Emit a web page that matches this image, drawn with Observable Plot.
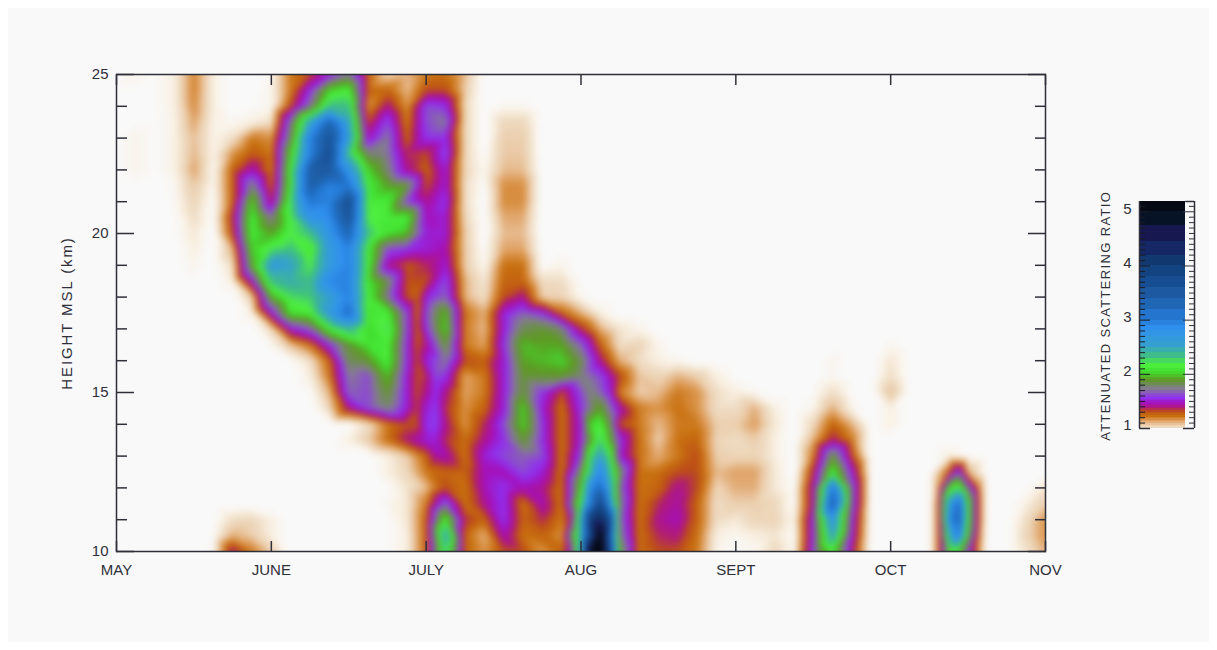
<!DOCTYPE html>
<html>
<head>
<meta charset="utf-8">
<script src="https://cdn.jsdelivr.net/npm/d3@7"></script>
<script src="https://cdn.jsdelivr.net/npm/@observablehq/plot@0.6"></script>
<style>
html,body{margin:0;padding:0;background:#fff;}
#page{position:absolute;left:8px;top:8px;width:1201px;height:634px;background:#f9f9f9;}
#main{position:absolute;left:0;top:0;}
#bar{position:absolute;left:1077px;top:172px;}
svg{background:transparent!important;}
text{font-family:"Liberation Sans",Arial,sans-serif;}
</style>
</head>
<body>
<div id="page"><div id="main"></div><div id="bar"></div></div>
<script>
const months = ["MAY","JUNE","JULY","AUG","SEPT","OCT","NOV"];
const monthTicks = [0,1,2,3,4,5,6];
const heightsKm = [25,24.5,24,23.5,23,22.5,22,21.5,21,20.5,20,19.5,19,18.5,18,17.5,17,16.5,16,15.5,15,14.5,14,13.5,13,12.5,12,11.5,11,10.5,10];
const majorKm = [10,15,20,25];
const minorKm = [11,12,13,14,16,17,18,19,21,22,23,24];
// columns run at eight per month, May to November
const km25 = [.90,.93,.90,.95,1.18,.95,.88,.88, .92,1.2,1.3,1.5,1.7,1.25,1.03,1.08, 1.2,1.22,1.08,.88,.88,.88,.88,.88, .88,.88,.88,.88,.88,.88,.88,.88, .88,.88,.88,.88,.88,.88,.88,.88, .88,.88,.88,.88,.88,.88,.88,.88, .88];
const km24h = [.9,.9,.9,.95,1.18,.95,.88,.88, .93,1.2,1.55,2.0,2.1,1.25,1.25,1.08, 1.3,1.3,1.05,.88,.88,.88,.88,.88, .88,.88,.88,.88,.88,.88,.88,.88, .88,.88,.88,.88,.88,.88,.88,.88, .88,.88,.88,.88,.88,.88,.88,.88, .88];
const km24 = [.9,.9,.9,.95,1.16,.95,.88,.9, .92,1.3,1.7,2.3,2.3,1.15,1.4,1.15, 1.6,1.55,1.02,.88,.92,.92,.88,.88, .88,.88,.88,.88,.88,.88,.88,.88, .88,.88,.88,.88,.88,.88,.88,.88, .88,.88,.88,.88,.88,.88,.88,.88, .88];
const km23h = [.9,.9,.9,.94,1.12,.94,.92,.95, 1.0,1.7,2.5,3.2,2.5,1.3,1.6,1.2, 1.6,1.7,1.02,.88,1.02,1.02,.88,.88, .88,.88,.88,.88,.88,.88,.88,.88, .88,.88,.88,.88,.88,.88,.88,.88, .88,.88,.88,.88,.88,.88,.88,.88, .88];
const km23 = [.9,.93,.9,.94,1.08,.94,1.0,1.2, 1.15,1.8,2.9,3.5,2.6,1.45,1.7,1.25, 1.55,1.55,1.02,.88,1.05,1.05,.88,.88, .88,.88,.88,.88,.88,.88,.88,.88, .88,.88,.88,.88,.88,.88,.88,.88, .88,.88,.88,.88,.88,.88,.88,.88, .88];
const km22h = [.9,.93,.9,.94,1.09,.94,1.15,1.28, 1.2,2.0,2.9,3.6,2.3,1.75,1.7,1.35, 1.3,1.6,1.02,.9,1.06,1.06,.88,.88, .88,.88,.88,.88,.88,.88,.88,.88, .88,.88,.88,.88,.88,.88,.88,.88, .88,.88,.88,.88,.88,.88,.88,.88, .88];
const km22 = [.9,.93,.9,.94,1.12,.92,1.25,1.45, 1.2,2.1,3.3,3.4,2.7,2.0,1.75,1.4, 1.25,1.5,1.02,.92,1.08,1.08,.88,.88, .88,.88,.88,.88,.88,.88,.88,.88, .88,.88,.88,.88,.88,.88,.88,.88, .88,.88,.88,.88,.88,.88,.88,.88, .88];
const km21h = [.88,.9,.88,.92,1.06,.92,1.25,1.75, 1.25,2.1,3.3,2.9,3.0,2.1,1.9,1.85, 1.3,1.5,1.0,.9,1.16,1.16,.88,.88, .88,.88,.88,.88,.88,.88,.88,.88, .88,.88,.88,.88,.88,.88,.88,.88, .88,.88,.88,.88,.88,.88,.88,.88, .88];
const km21 = [.88,.88,.88,.91,1.03,.9,1.25,2.0, 1.35,2.2,3.0,2.9,3.6,2.1,2.1,1.6, 1.4,1.55,1.0,.88,1.16,1.16,.88,.88, .88,.88,.88,.88,.88,.88,.88,.88, .88,.88,.88,.88,.88,.88,.88,.88, .88,.88,.88,.88,.88,.88,.88,.88, .88];
const km20h = [.88,.88,.88,.9,1.0,.9,1.35,2.1, 1.7,2.15,2.7,2.85,3.5,2.15,2.1,2.1, 1.45,1.5,1.02,.88,1.11,1.11,.88,.88, .88,.88,.88,.88,.88,.88,.88,.88, .88,.88,.88,.88,.88,.88,.88,.88, .88,.88,.88,.88,.88,.88,.88,.88, .88];
const km20 = [.88,.88,.88,.9,.97,.88,1.3,2.1, 1.9,2.15,2.3,2.7,3.2,2.3,2.05,1.95, 1.5,1.5,1.05,.88,1.08,1.08,.88,.88, .88,.88,.88,.88,.88,.88,.88,.88, .88,.88,.88,.88,.88,.88,.88,.88, .88,.88,.88,.88,.88,.88,.88,.88, .88];
const km19h = [.88,.88,.88,.88,.95,.88,1.1,2.0, 2.2,2.3,2.05,2.6,2.9,2.1,1.6,1.55, 1.5,1.45,1.05,.9,1.12,1.12,.88,.9, .88,.88,.88,.88,.88,.88,.88,.88, .88,.88,.88,.88,.88,.88,.88,.88, .88,.88,.88,.88,.88,.88,.88,.88, .88];
const km19 = [.88,.88,.88,.88,.93,.88,1.0,1.9, 2.6,2.5,2.15,2.6,2.9,2.1,1.4,1.28, 1.35,1.5,1.05,.92,1.22,1.22,.9,.93, .88,.88,.88,.88,.88,.88,.88,.88, .88,.88,.88,.88,.88,.88,.88,.88, .88,.88,.88,.88,.88,.88,.88,.88, .88];
const km18h = [.88,.88,.88,.88,.9,.88,.95,1.5, 2.3,2.4,2.3,2.85,2.9,2.05,1.8,1.3, 1.3,1.6,1.1,.97,1.25,1.25,1.0,1.0, .9,.88,.88,.88,.88,.88,.88,.88, .88,.88,.88,.88,.88,.88,.88,.88, .88,.88,.88,.88,.88,.88,.88,.88, .88];
const km18 = [.88,.88,.88,.88,.88,.88,.88,1.05, 1.9,2.2,2.25,2.5,2.9,2.1,1.7,1.3, 1.5,1.65,1.1,1.0,1.3,1.4,1.05,1.03, .92,.88,.88,.88,.88,.88,.88,.88, .88,.88,.88,.88,.88,.88,.88,.88, .88,.88,.88,.88,.88,.88,.88,.88, .88];
const km17h = [.88,.88,.88,.88,.88,.88,.88,.95, 1.5,2.05,2.1,2.6,3.1,2.05,2.1,1.6, 1.6,1.95,1.22,1.1,1.5,1.65,1.55,1.25, 1.1,.95,.88,.88,.88,.88,.88,.88, .88,.88,.88,.88,.88,.88,.88,.88, .88,.88,.88,.88,.88,.88,.88,.88, .88];
const km17 = [.88,.88,.88,.88,.88,.88,.88,.88, 1.02,1.5,1.65,2.1,2.35,2.0,2.2,1.6, 1.55,2.0,1.2,1.08,1.5,1.8,1.85,1.75, 1.35,1.1,.98,.93,.88,.88,.88,.88, .88,.88,.88,.88,.88,.88,.88,.88, .88,.88,.88,.88,.88,.88,.88,.88, .88];
const km16h = [.88,.88,.88,.88,.88,.88,.88,.88, .92,1.08,1.22,1.55,1.85,2.05,2.1,1.55, 1.4,1.85,1.2,1.12,1.55,1.95,1.9,1.9, 1.65,1.25,1.0,1.03,.93,.88,.88,.88, .88,.88,.88,.88,.88,.88,.88,.88, .92,.88,.88,.88,.88,.88,.88,.88, .88];
const km16 = [.88,.88,.88,.88,.88,.88,.88,.88, .88,.9,1.0,1.25,1.8,1.85,2.1,1.55, 1.5,1.7,1.3,1.25,1.5,1.9,1.95,2.0, 1.8,1.4,1.1,1.0,.95,.92,.88,.88, .88,.88,.88,.88,.88,.93,.88,.88, .98,.88,.88,.88,.88,.88,.88,.88, .88];
const km15h = [.88,.88,.88,.88,.88,.88,.88,.88, .88,.88,.95,1.2,1.7,1.6,1.95,1.5, 1.35,1.55,1.12,1.2,1.5,1.85,1.85,1.85, 1.75,1.6,1.3,1.07,1.03,1.1,1.05,.95, .9,.88,.88,.88,.88,.92,.88,.88, 1.0,.88,.88,.88,.88,.88,.88,.88, .88];
const km15 = [.88,.88,.88,.88,.88,.88,.88,.88, .88,.88,.9,1.1,1.65,1.6,1.85,1.5, 1.4,1.4,1.12,1.2,1.5,1.85,1.55,1.3, 1.6,1.65,1.2,1.05,1.08,1.2,1.15,1.0, .95,.92,.88,.88,.9,1.0,.9,.88, 1.08,.88,.88,.88,.88,.88,.88,.88, .88];
const km14h = [.88,.88,.88,.88,.88,.88,.88,.88, .88,.88,.88,1.02,1.4,1.6,1.75,1.5, 1.5,1.35,1.15,1.25,1.5,2.0,1.5,1.22, 1.55,1.9,1.45,1.2,1.15,1.22,1.15,1.0, 1.0,1.1,.95,.88,.93,1.1,.93,.88, .95,.88,.88,.88,.88,.88,.88,.88, .88];
const km14 = [.88,.88,.88,.88,.88,.88,.88,.88, .88,.88,.88,.88,.9,1.0,1.2,1.3, 1.55,1.4,1.15,1.35,1.6,2.0,1.55,1.22, 1.5,2.1,1.3,1.2,1.08,1.2,1.2,1.05, 1.05,1.13,.97,.88,1.02,1.25,1.1,.88, .95,.88,.88,.88,.88,.88,.88,.88, .88];
const km13h = [.88,.88,.88,.88,.88,.88,.88,.88, .88,.88,.88,.88,.95,1.05,1.22,1.38, 1.5,1.35,1.22,1.4,1.55,1.85,1.55,1.22, 1.5,2.25,1.55,1.22,1.05,1.22,1.25,1.03, 1.0,1.05,.95,.88,1.1,1.38,1.2,.88, .88,.88,.88,.88,.88,.88,.88,.88, .88];
const km13 = [.88,.88,.88,.88,.88,.88,.88,.88, .88,.88,.88,.88,.88,.88,.95,1.05, 1.25,1.45,1.22,1.5,1.6,1.65,1.6,1.22, 1.6,2.5,1.5,1.22,1.1,1.2,1.3,1.05, 1.03,1.03,.95,.88,1.2,1.85,1.3,.88, .88,.88,.88,.95,.9,.88,.88,.88, .88];
const km12h = [.88,.88,.88,.88,.88,.88,.88,.88, .88,.88,.88,.88,.88,.88,.95,1.02, 1.2,1.25,1.25,1.45,1.45,1.6,1.5,1.22, 1.8,2.85,1.8,1.22,1.22,1.3,1.3,1.08, 1.12,1.12,.97,.88,1.35,2.1,1.5,.88, .88,.88,.88,1.25,1.1,.88,.88,.88, .88];
const km12 = [.88,.88,.88,.88,.88,.88,.88,.88, .88,.88,.88,.88,.88,.88,.9,.98, 1.08,1.3,1.22,1.45,1.55,1.45,1.4,1.22, 2.0,3.1,1.7,1.22,1.25,1.4,1.3,1.03, 1.1,1.1,.97,.9,1.45,3.0,1.65,.88, .88,.88,.88,2.0,1.7,.88,.88,.9, .98];
const km11h = [.88,.88,.88,.88,.88,.88,.88,.88, .88,.88,.88,.88,.88,.88,.92,.97, 1.2,1.65,1.22,1.4,1.55,1.22,1.45,1.22, 2.2,3.7,1.75,1.22,1.35,1.42,1.25,1.0, 1.05,1.05,1.02,.9,1.45,3.3,1.65,.88, .88,.88,.88,2.6,2.1,.88,.88,.95, 1.05];
const km11 = [.88,.88,.88,.88,.88,.88,1.0,1.02, .95,.88,.88,.88,.88,.88,.9,.97, 1.25,2.1,1.35,1.25,1.55,1.25,1.35,1.2, 2.5,4.3,1.7,1.22,1.4,1.45,1.25,1.0, .97,1.03,1.03,.93,1.55,2.7,1.55,.88, .88,.88,.88,2.8,2.1,.88,.88,1.0, 1.15];
const km10h = [.88,.88,.88,.88,.88,.9,1.1,1.05, .95,.88,.88,.88,.88,.88,.9,.95, 1.25,2.5,1.25,1.1,1.45,1.22,1.25,1.15, 2.5,5.0,1.75,1.22,1.35,1.38,1.22,.95, .92,.95,.98,.9,1.55,2.5,1.5,.88, .88,.88,.88,2.4,1.95,.88,.88,1.02, 1.15];
const km10 = [.88,.88,.88,.88,.88,.92,1.4,1.2, 1.05,.88,.88,.88,.88,.88,.9,.95, 1.25,2.3,1.25,1.15,1.3,1.3,1.15,1.25, 2.6,5.2,1.9,1.22,1.3,1.3,1.2,.93, .9,.92,1.02,.92,1.6,2.1,1.4,.88, .88,.88,.88,2.0,1.6,.88,.88,.98, 1.1];
const rows = [km25,km24h,km24,km23h,km23,km22h,km22,km21h,km21,km20h,km20,km19h,km19,km18h,km18,km17h,km17,km16h,km16,km15h,km15,km14h,km14,km13h,km13,km12h,km12,km11h,km11,km10h,km10];
// extra readings where the plumes are narrower than the column spacing
const extraMonth = [3.06,3.06,3.06,3.06,3.06,3.06, 3.19,3.19,3.19,3.19,3.19,3.19, 2.93,2.93, 5.31,5.31,5.31,5.31,5.31, 5.44,5.44,5.44,5.44,5.44,5.44, 5.57,5.57,5.57,5.57,5.57, 1.94,1.94,1.94,1.94,1.94,1.94,1.94,1.94,1.94, 2.06,2.06,2.06,2.06,2.06,2.06];
const extraKm = [15,14,13,12,11,10, 15,14,13,12,11,10, 11,10, 12,11.5,11,10.5,10, 12.5,12,11.5,11,10.5,10, 12,11.5,11,10.5,10, 18,17.5,17,16.5,16,15.5,15,14.5,14, 15.5,15,14.5,14,13.5,13];
const extraValue = [1.75,2.0,2.2,2.8,3.9,4.8, 1.5,1.8,2.15,2.5,3.5,3.5, 1.4,1.5, 1.15,1.22,1.22,1.22,1.22, 1.6,2.2,3.1,3.2,2.9,2.0, 1.2,1.25,1.25,1.2,1.15, 1.25,1.22,1.25,1.28,1.3,1.3,1.3,1.32,1.3, 1.6,1.55,1.58,1.58,1.5,1.42];
// colour ramp of the bar
const rampValues = [.9,.95,1.0,1.05,1.1,1.15,1.22,1.3,1.37,1.45,1.55,1.7,1.88,2.03,2.14,2.28,2.5,2.8,3.05,3.3,3.65,4.0,4.3,4.55,4.8,5.1];
const rampColors = ["#f9f9f9","#f9f0e2","#efdcc4","#ecd0b0","#e3ae7a","#da9348","#c8700f","#bd4f17","#b01a78","#a510b8","#9030f0","#857a95","#5e9a22","#40e030","#50f040","#40c080","#35a0d0","#3090f0","#2070c8","#1f60a8","#154a90","#123a70","#162060","#181445","#031220","#05050f"];
const barEdges = [1,1.03,1.06,1.09,1.12,1.15,1.18,1.21,1.24,1.27,1.3,1.33,1.36,1.39,1.42,1.45,1.48,1.51,1.54,1.57,1.6,1.65,1.7,1.75,1.8,1.85,1.9,1.95,2,2.05,2.1,2.2,2.3,2.4,2.5,2.6,2.7,2.8,2.9,3,3.2,3.4,3.6,3.8,4,4.2,4.45,4.75,5,5.19];
const barMinor = [1.1,1.2,1.3,1.4,1.5,1.6,1.7,1.8,1.9,2.1,2.2,2.3,2.4,2.5,2.6,2.7,2.8,2.9,3.1,3.2,3.3,3.4,3.5,3.6,3.7,3.8,3.9,4.1,4.2,4.3,4.4,4.5,4.6,4.7,4.8,4.9,5.1];
const barMajor = [1,2,3,4,5];

const points = [];
rows.forEach((r,j)=>r.forEach((v,i)=>points.push({m:i/8,km:heightsKm[j],v})));
extraMonth.forEach((m,i)=>points.push({m,km:extraKm[i],v:extraValue[i]}));

const ink = "#2f2f3a";
const colorScale = {type:"linear",domain:rampValues,range:rampColors,clamp:true,interpolate:"rgb"};
const fs = 15;

const chart = Plot.plot({
  width:1201,height:634,marginLeft:108,marginRight:164,marginTop:66,marginBottom:91,
  style:{background:"transparent",fontFamily:"Liberation Sans",fontSize:fs+"px",color:ink},
  x:{domain:[0,6]},y:{domain:[10,25]},color:colorScale,
  marks:[
    Plot.raster(points,{x:"m",y:"km",fill:"v",interpolate:"barycentric",blur:2.5,pixelSize:1}),
    Plot.axisX(monthTicks,{anchor:"bottom",tickSize:0,tickPadding:13,tickFormat:i=>months[i],label:null,fontSize:fs}),
    Plot.axisX(monthTicks,{anchor:"bottom",tickSize:-10,text:null,label:null,stroke:ink,strokeWidth:1.5}),
    Plot.axisX(monthTicks,{anchor:"top",tickSize:-10,text:null,label:null,stroke:ink,strokeWidth:1.5}),
    Plot.axisY(majorKm,{anchor:"left",tickSize:0,tickPadding:8,label:"HEIGHT MSL (km)",labelAnchor:"center",labelArrow:"none",labelOffset:55,fontSize:fs}),
    Plot.axisY(majorKm,{anchor:"left",tickSize:-18,text:null,label:null,stroke:ink,strokeWidth:1.5}),
    Plot.axisY(minorKm,{anchor:"left",tickSize:-11,text:null,label:null,stroke:ink,strokeWidth:1.5}),
    Plot.axisY(majorKm,{anchor:"right",tickSize:-18,text:null,label:null,stroke:ink,strokeWidth:1.5}),
    Plot.axisY(minorKm,{anchor:"right",tickSize:-11,text:null,label:null,stroke:ink,strokeWidth:1.5}),
    Plot.frame({stroke:ink,strokeWidth:1.5})
  ]
});
document.getElementById("main").append(chart);

const bands = barEdges.slice(0,-1).map((e,i)=>({y1:e,y2:barEdges[i+1]}));
const bar = Plot.plot({
  width:124,height:278,margin:0,
  style:{background:"transparent",fontFamily:"Liberation Sans",fontSize:"14px",color:ink},
  x:{domain:[0,1],range:[54,109],axis:null},
  y:{domain:[1,5.19],range:[248,21],axis:null},
  color:colorScale,
  marks:[
    Plot.rect(bands,{x1:0,x2:.836,y1:"y1",y2:"y2",fill:d=>d.y1+0.01,shapeRendering:"crispEdges"}),
    Plot.ruleY(barMinor,{x1:0,x2:.11,stroke:"#1a1a22"}),
    Plot.ruleY(barMajor,{x1:0,x2:.2,stroke:"#1a1a22"}),
    Plot.ruleY(barMinor,{x1:.91,x2:1,stroke:ink}),
    Plot.ruleY(barMajor,{x1:.8,x2:1,stroke:ink}),
    Plot.ruleX([0,1],{y1:1,y2:5.19,stroke:ink,strokeWidth:1.5}),
    Plot.ruleY([1],{x1:0,x2:.2,stroke:ink,strokeWidth:1.5}),
    Plot.ruleY([1],{x1:.8,x2:1,stroke:ink,strokeWidth:1.5}),
    Plot.ruleY([5.19],{x1:.84,x2:1,stroke:ink,strokeWidth:1.5}),
    Plot.text(barMajor,{x:-.22,y:d=>d,text:d=>String(d),fontSize:15,dy:-3}),
    Plot.text(["ATTENUATED SCATTERING RATIO"],{x:-.62,y:3.08,rotate:-90,fontSize:13})
  ]
});
bar.querySelectorAll("text").forEach(t=>{ if(t.textContent.startsWith("ATTEN")) t.style.letterSpacing="1.35px"; });
chart.querySelectorAll("text").forEach(t=>{ if(t.textContent.startsWith("HEIGHT")) t.style.letterSpacing="1.9px"; });
document.getElementById("bar").append(bar);
</script>
</body>
</html>
